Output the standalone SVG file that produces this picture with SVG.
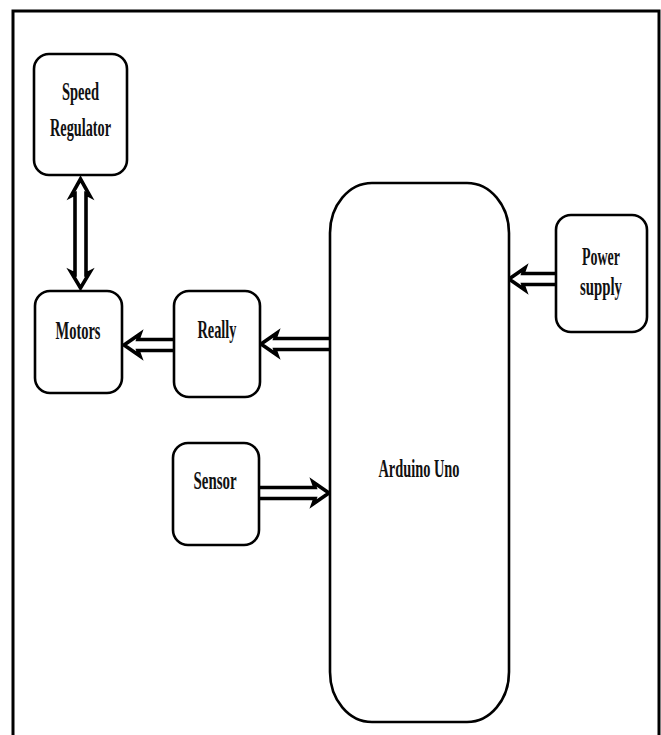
<svg xmlns="http://www.w3.org/2000/svg" width="661" height="735" viewBox="0 0 661 735">
<style>
.box{fill:#fff;stroke:#000;stroke-width:2.6}
.lbl{font-family:"Liberation Serif","Times New Roman",serif;font-weight:bold;font-size:25px;fill:#111;text-anchor:middle}
.arr{fill:none;stroke:#000;stroke-width:3.6;stroke-linejoin:miter}
</style>
<rect x="0" y="0" width="661" height="735" fill="#fff"/>
<rect x="13" y="11" width="646" height="740" fill="none" stroke="#000" stroke-width="3"/>
<g id="connectors">
<path class="arr" d="M75,194 L71,196 L80.5,179 L90,196 L86,194 L86,274 L90,272 L80.5,288 L71,272 L75,274 Z"/>
<path class="arr" d="M173,339.5 H138 L140,334 L124,345 L140,356 L138,350.5 H173"/>
<path class="arr" d="M330,338.5 H275 L277,333 L261,344 L277,355 L275,349.5 H330"/>
<path class="arr" d="M259,487.5 H315 L313,482 L329,493 L313,504 L315,498.5 H259"/>
<path class="arr" d="M555,273.5 H523 L525,268 L509,279 L525,290 L523,284.5 H555"/>
</g>
<g id="speed-regulator">
<rect class="box" x="34" y="54" width="93" height="121" rx="15"/>
<text class="lbl" x="80.5" y="100" textLength="37" lengthAdjust="spacingAndGlyphs">Speed</text>
<text class="lbl" x="80.5" y="136" textLength="61" lengthAdjust="spacingAndGlyphs">Regulator</text>
</g>
<g id="motors">
<rect class="box" x="35" y="291" width="87" height="102" rx="15"/>
<text class="lbl" x="78" y="339" textLength="45" lengthAdjust="spacingAndGlyphs">Motors</text>
</g>
<g id="really">
<rect class="box" x="174" y="291" width="86" height="106" rx="15"/>
<text class="lbl" x="217" y="338" textLength="39" lengthAdjust="spacingAndGlyphs">Really</text>
</g>
<g id="sensor">
<rect class="box" x="173" y="443" width="86" height="102" rx="15"/>
<text class="lbl" x="215" y="489" textLength="43" lengthAdjust="spacingAndGlyphs">Sensor</text>
</g>
<g id="power-supply">
<rect class="box" x="556" y="215" width="91" height="117" rx="15"/>
<text class="lbl" x="601" y="265" textLength="38" lengthAdjust="spacingAndGlyphs">Power</text>
<text class="lbl" x="601" y="295" textLength="42" lengthAdjust="spacingAndGlyphs">supply</text>
</g>
<g id="arduino-uno">
<rect class="box" x="330" y="183" width="179" height="539" rx="42" ry="50"/>
<text class="lbl" x="419" y="477" textLength="81" lengthAdjust="spacingAndGlyphs">Arduino Uno</text>
</g>
</svg>
